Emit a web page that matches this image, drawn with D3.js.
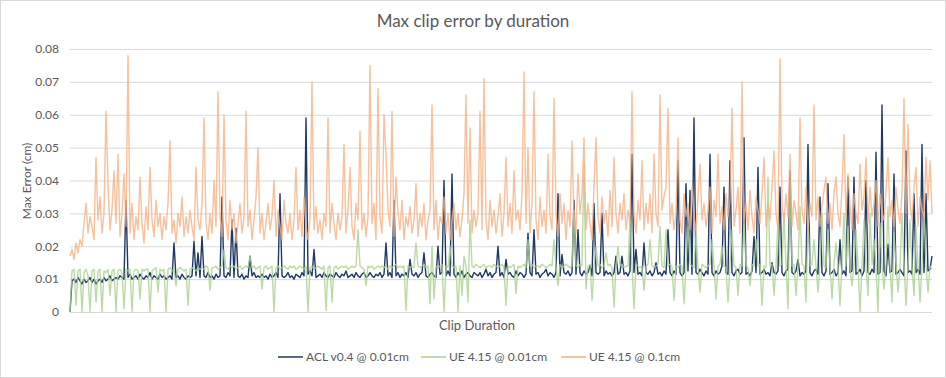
<!DOCTYPE html>
<html>
<head>
<meta charset="utf-8">
<script src="https://cdn.jsdelivr.net/npm/d3@7"></script>
<style>
  body { margin: 0; background: #fff; }
  text { font-family: Lato, "Open Sans", sans-serif; fill: #595959; }
</style>
</head>
<body>
<svg width="946" height="378"></svg>
<script>
// values are max error in thousandths of a cm (10 = 0.01cm), one per clip, sorted by duration
var seriesNames = ["ACL v0.4 @ 0.01cm", "UE 4.15 @ 0.01cm", "UE 4.15 @ 0.1cm"];
var seriesColors = ["#203864", "#a9d18e", "#f4b183"];
var yTickValues = [0, 10, 20, 30, 40, 50, 60, 70, 80];
var yTickLabels = ["0", "0.01", "0.02", "0.03", "0.04", "0.05", "0.06", "0.07", "0.08"];

var aclValues = [
  0, 9.5, 10, 9, 10.5, 9.5, 8.5, 10, 9, 9.5, 10.5, 9,
  10, 8.5, 9.5, 10, 9, 10.5, 9.5, 10, 11, 9.5, 10, 10.5,
  10, 11, 10.5, 10, 34, 10.5, 11.5, 10, 10.5, 11, 10, 11.5,
  10.5, 10, 11, 10.5, 12, 10, 11, 10.5, 10, 11.5, 10.5, 11,
  10, 10.5, 11, 10, 21, 10.5, 11, 10, 11.5, 10.5, 10, 11,
  10.5, 11, 21.5, 11, 18, 10.5, 23, 11, 10.5, 12, 10.5, 11,
  10, 11.5, 10.5, 11, 35, 11, 10.5, 12, 11, 28, 10.5, 25.5,
  11, 10.5, 11.5, 10, 11, 10.5, 17, 11, 12, 10.5, 11, 10.5,
  11.5, 10.5, 11, 10, 11.5, 10.5, 11, 12, 10.5, 36, 11, 10.5,
  11, 12, 10.5, 11, 10, 11.5, 11, 10.5, 12, 11, 59, 11.5,
  12.5, 11, 19, 10.5, 11, 11.5, 10.5, 12, 11, 10.5, 11.5, 11,
  10.5, 12, 11, 10.5, 11.5, 11, 12.5, 10.5, 11, 11.5, 10.5, 12,
  11, 10.5, 11.5, 12, 10.5, 11, 12, 11, 10.5, 11.5, 11, 12,
  10.5, 11.5, 21, 11, 12, 10.5, 34, 11, 12, 10.5, 11.5, 11,
  12, 10.5, 16, 11.5, 11, 12, 10.5, 11.5, 12, 18, 11, 10.5,
  11.5, 12, 11, 10.5, 20, 11.5, 12, 40, 11, 12.5, 11, 42,
  11.5, 10.5, 12, 11, 12.5, 10.5, 11.5, 12, 11, 10.5, 12, 11.5,
  11, 12, 10.5, 11.5, 13, 11, 12, 10.5, 11.5, 12, 20, 11,
  12, 10.5, 16, 11.5, 12, 11, 10.5, 12.5, 11, 12, 11.5, 10.5,
  11.5, 24, 12, 11, 25, 11.5, 12, 10.5, 11.5, 12, 13, 11,
  12, 11.5, 10.5, 12, 36, 11, 17.5, 12, 11.5, 12.5, 11, 12,
  34, 11.5, 25, 12, 11, 12.5, 11.5, 12, 14, 11, 33, 12,
  11.5, 12, 30, 11, 12.5, 11.5, 12, 11, 12, 17, 11.5, 12,
  17, 11.5, 12, 11, 12.5, 48, 12, 19, 11.5, 12, 11, 21,
  12, 11.5, 12.5, 11, 12, 15, 11.5, 12, 11, 12.5, 11.5, 25,
  12, 11, 12.5, 11.5, 46, 12, 11, 12, 39, 12.5, 37, 11.5,
  59, 12, 11.5, 13, 12, 11, 12.5, 11.5, 48, 12, 11, 12.5,
  11.5, 12, 14, 38, 12, 11.5, 46, 12, 11, 12.5, 13, 11.5,
  12, 53, 11.5, 12, 11, 12.5, 23, 12, 44, 11.5, 12, 13,
  11.5, 12, 11, 15, 12, 11.5, 12.5, 38, 12, 11, 12.5, 13,
  43, 12, 11.5, 12.5, 16, 11, 12, 11.5, 12.5, 51, 12, 11,
  12.5, 13, 11.5, 35, 12, 11, 12.5, 39, 11.5, 12, 13, 11,
  12, 22, 11.5, 12.5, 11, 41, 12, 12.5, 41, 11.5, 12, 13,
  11, 12.5, 40, 12, 11.5, 13, 12, 48.6, 11.5, 12, 63, 12.5,
  11, 20.6, 12, 12.5, 42, 11.5, 12, 13, 12, 11, 49, 12,
  12.5, 11.5, 36, 12, 13, 11.5, 51, 12, 36, 12.5, 13, 17
];

var ue001Values = [
  0, 12.5, 13, 2, 12.5, 13, 0, 12, 13, 11, 0, 12.5,
  13, 3, 12.5, 13, 0, 12.5, 12, 13, 5, 12.5, 13, 0,
  12.5, 13, 12, 1, 13, 12.5, 13, 0, 12.5, 13, 12.5, 4,
  13, 12.5, 13, 13, 0, 12.5, 13, 13.5, 6, 13, 12.5, 13,
  0, 13, 13.5, 12.5, 13, 8, 13, 13.5, 13, 12.5, 13, 2,
  13, 13.5, 13, 12.5, 13.5, 13, 13.5, 13, 14, 13.5, 6.6, 13.5,
  13.5, 14, 13, 13.5, 14, 19, 13.5, 13, 14, 13.5, 14, 13,
  13.5, 14, 13, 13.5, 14, 13.5, 17, 13.5, 14, 13, 13.5, 14,
  7, 13.5, 14, 13, 13.5, 14, 0, 13.5, 14, 13, 13.5, 14,
  13.5, 13, 14, 13.5, 14, 13, 13.5, 14, 13.5, 13, 14, 0,
  13.5, 14, 13, 13.5, 14, 13.5, 13, 14, 0.5, 13.5, 14, 3,
  13.5, 14, 13, 13.5, 14, 13.5, 14, 13, 13.5, 14, 13.5, 14,
  25, 14, 13.5, 13, 8, 14, 13.5, 14, 13, 13.5, 14, 13.5,
  14, 13.5, 14, 13, 14, 13.5, 14, 14.5, 13.5, 14, 13.5, 14,
  0.5, 14, 13.5, 14, 13.5, 21, 14, 13.5, 14, 14.5, 13.5, 14,
  2.5, 20, 4, 14, 13.5, 14, 14.5, 0, 14, 13.5, 20, 14,
  13.5, 14, 0, 14, 5, 17, 14, 3, 28, 14, 13.5, 14.5,
  14, 13.5, 14, 14.5, 13.5, 14, 14, 13.5, 14.5, 14, 13.5, 14,
  14.5, 13.5, 2, 14, 13.5, 14, 14.5, 5.6, 14, 13.5, 14, 14.5,
  13.5, 22, 14, 14.5, 13.5, 14, 14, 13.5, 14.5, 14, 13.5, 14,
  14.5, 14, 22, 14, 8, 14.5, 13.5, 14, 14.5, 14, 13.5, 14,
  31, 14, 13.5, 14.5, 14, 45, 7, 14, 14.5, 3.5, 14, 20,
  14, 14.5, 13.5, 14, 18, 14, 14.5, 13.5, 1.5, 14, 20, 14,
  14.5, 13.5, 14, 14, 28, 14, 1, 14.5, 14, 13.5, 14, 6.6,
  14, 14.5, 22, 14, 13.5, 14, 14.5, 26, 14, 13.5, 25, 14,
  14.5, 14, 3.5, 14, 13.5, 14.5, 14, 2.5, 14, 26, 14.5, 14,
  13.5, 24, 14, 6, 14.5, 14, 13.5, 14, 14.5, 22, 14, 4,
  14, 14.5, 20, 14, 13.5, 3, 14.5, 25, 14, 13.5, 5, 14.5,
  14, 27, 14, 13.5, 8, 14.5, 14, 22, 14, 14.5, 2, 14,
  13.5, 41, 14, 14.5, 5, 14, 28, 14, 14.5, 30, 14, 1,
  40, 14, 14.5, 5, 14, 32, 14.5, 14, 3, 28, 14, 14.5,
  22, 14, 6, 14.5, 30, 14, 13.5, 25, 14, 4, 14.5, 21,
  14, 2, 14.5, 30, 14, 26, 13.5, 8, 14.5, 25, 14, 0,
  14.5, 28, 14, 5, 30, 14.5, 22, 14, 0, 27, 14, 7,
  14.5, 32, 14, 3, 24, 14.5, 6, 14, 30, 15, 2, 14.5,
  28, 14, 5, 26, 14.5, 3, 14, 30, 14.5, 6, 14, 13
];

var ue01Values = [
  17, 19, 16, 21, 18, 22, 20, 27, 33, 24, 29, 26,
  22, 47, 28, 35, 24, 30, 61, 39, 25, 31, 43, 27,
  48, 23, 30, 42, 26, 78, 24, 33, 22, 29, 25, 41,
  27, 21, 32, 25, 44, 28, 23, 34, 26, 30, 22, 29,
  25, 33, 52, 24, 28, 21, 30, 26, 35, 23, 29, 24,
  31, 26, 22, 44, 28, 25, 33, 59, 27, 22, 30, 24,
  40, 26, 67, 29, 23, 60, 28, 22, 34, 25, 30, 21,
  27, 33, 24, 29, 61, 26, 31, 22, 28, 35, 50, 24,
  30, 22, 27, 33, 25, 29, 40, 23, 31, 26, 22, 34,
  27, 24, 30, 22, 28, 44, 25, 31, 23, 35, 26, 22,
  29, 70, 25, 32, 24, 28, 22, 30, 26, 59, 24, 33,
  27, 22, 30, 25, 29, 51, 24, 31, 44, 26, 22, 33,
  28, 55, 25, 30, 23, 29, 75, 27, 33, 22, 68, 29,
  24, 60, 48, 31, 26, 61, 23, 41, 30, 25, 34, 22,
  29, 26, 32, 24, 28, 39, 23, 30, 26, 33, 22, 28,
  31, 63, 25, 34, 22, 29, 27, 35, 24, 30, 22, 28,
  33, 25, 30, 23, 28, 36, 66, 27, 56, 24, 31, 26,
  30, 61, 25, 71, 28, 22, 34, 26, 31, 24, 29, 36,
  23, 30, 47, 26, 33, 24, 43, 28, 31, 25, 36, 73,
  27, 50, 24, 33, 67, 28, 22, 35, 26, 31, 24, 48,
  29, 25, 65, 30, 23, 36, 27, 33, 22, 31, 26, 52,
  28, 24, 42, 30, 36, 53, 25, 33, 27, 22, 38, 53,
  29, 24, 35, 27, 31, 23, 37, 26, 47, 30, 24, 33,
  28, 36, 25, 31, 27, 67, 30, 24, 34, 28, 46, 25,
  33, 27, 36, 24, 48, 30, 26, 66, 31, 35, 38, 62,
  27, 33, 25, 30, 53, 28, 24, 36, 29, 33, 25, 38,
  30, 24, 35, 45, 28, 33, 26, 31, 38, 24, 34, 29,
  48, 27, 32, 25, 36, 29, 34, 62, 26, 31, 38, 24,
  70, 28, 33, 25, 37, 29, 24, 35, 31, 27, 36, 47,
  26, 33, 28, 38, 49, 30, 25, 77, 33, 27, 36, 29,
  48, 26, 34, 30, 25, 59, 31, 27, 38, 24, 33, 29,
  63, 28, 35, 26, 32, 37, 41, 27, 33, 25, 36, 41,
  30, 26, 38, 54, 28, 42, 33, 25, 36, 30, 27, 45,
  31, 35, 47, 27, 38, 29, 33, 40, 26, 36, 30, 28,
  37, 47, 29, 34, 26, 38, 31, 27, 36, 65, 30, 57,
  33, 28, 38, 44, 26, 35, 31, 29, 47, 34, 46, 30
];

var allSeries = [aclValues, ue001Values, ue01Values];

var svg = d3.select("svg");
var plot = { left: 70, right: 932, top: 49, bottom: 312 };

// chart border
svg.append("rect")
  .attr("x", 0.5).attr("y", 0.5)
  .attr("width", 945).attr("height", 377)
  .attr("fill", "none")
  .attr("stroke", "#d9d9d9");

var x = d3.scaleLinear()
  .domain([0, aclValues.length - 1])
  .range([plot.left, plot.right]);

var y = d3.scaleLinear()
  .domain([0, 80])
  .range([plot.bottom, plot.top]);

// y axis with gridlines
var yAxis = svg.append("g")
  .attr("transform", "translate(" + plot.left + ",0)")
  .call(d3.axisLeft(y)
    .tickValues(yTickValues)
    .tickFormat(function(d, i) { return yTickLabels[i]; })
    .tickSize(-(plot.right - plot.left))
    .tickPadding(11));
yAxis.select(".domain").remove();
yAxis.selectAll(".tick line").attr("stroke", "#d9d9d9").attr("stroke-width", 1);
yAxis.selectAll(".tick text")
  .style("font-size", "12px")
  .style("font-family", "Lato, sans-serif")
  .attr("fill", "#595959");

// the lines, drawn in legend order so the later ones sit on top
var line = d3.line()
  .x(function(d, i) { return x(i); })
  .y(function(d) { return y(d); });

svg.append("g")
  .selectAll("path.series")
  .data(allSeries)
  .enter()
  .append("path")
  .attr("class", "series")
  .attr("d", line)
  .attr("fill", "none")
  .attr("stroke", function(d, i) { return seriesColors[i]; })
  .attr("stroke-width", 1.4)
  .attr("stroke-opacity", function(d, i) { return i == 0 ? 1 : 0.8; })
  .attr("stroke-linejoin", "round");

// titles
svg.append("text")
  .attr("x", 473).attr("y", 27)
  .attr("text-anchor", "middle")
  .style("font-size", "17px")
  .text("Max clip error by duration");

svg.append("text")
  .attr("x", 477).attr("y", 330)
  .attr("text-anchor", "middle")
  .style("font-size", "13px")
  .text("Clip Duration");

svg.append("text")
  .attr("transform", "translate(31,181) rotate(-90)")
  .attr("text-anchor", "middle")
  .style("font-size", "12px")
  .text("Max Error (cm)");

// legend
var legendX = [278, 421, 561];
var legend = svg.selectAll("g.legend")
  .data(seriesNames)
  .enter()
  .append("g")
  .attr("class", "legend")
  .attr("transform", function(d, i) { return "translate(" + legendX[i] + ",357)"; });

legend.append("line")
  .attr("x1", 0).attr("x2", 25)
  .attr("y1", 0).attr("y2", 0)
  .attr("stroke", function(d, i) { return seriesColors[i]; })
  .attr("stroke-width", 1.5);

legend.append("text")
  .attr("x", 28).attr("y", 4)
  .style("font-size", "12px")
  .text(function(d) { return d; });
</script>
</body>
</html>
